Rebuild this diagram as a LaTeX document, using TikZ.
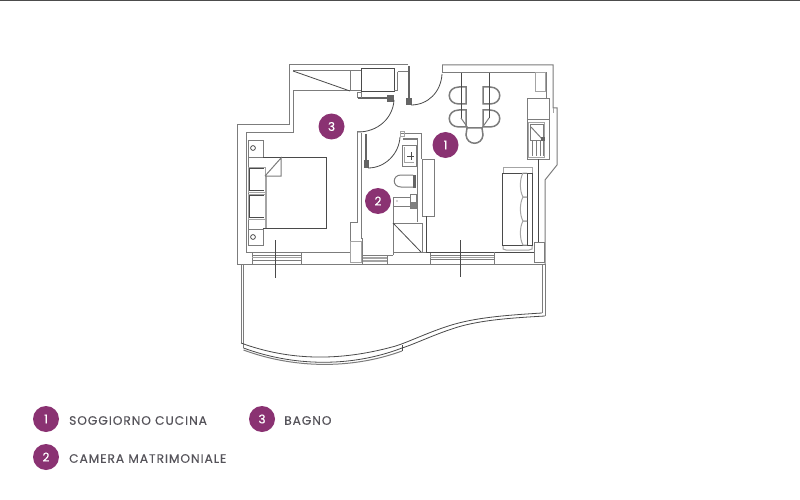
\documentclass[tikz,border=0pt]{standalone}
\usepackage{fontspec}
\setmainfont{Poppins}
\newfontfamily\legendfont[LetterSpace=8,FakeBold=0.25]{Poppins}
\newfontfamily\badgefont[FakeBold=0.5]{Poppins}
\definecolor{plum}{HTML}{8A3272}
\definecolor{wallc}{HTML}{7C7C7C}
\definecolor{darkc}{HTML}{4A4A4A}
\definecolor{softc}{HTML}{A4A4A4}
\definecolor{textc}{HTML}{55535A}
\tikzset{
  wall/.style={draw=wallc,line width=1pt},
  fine/.style={draw=darkc,line width=.8pt},
  soft/.style={draw=softc,line width=1pt},
  heavy/.style={draw=darkc!85,line width=2pt},
  badge/.style={circle,fill=plum,minimum size=26pt,inner sep=0pt,text=white,font=\fontsize{12}{12}\badgefont},
  legend/.style={anchor=west,text=textc,inner sep=0pt,font=\fontsize{12.2}{13}\legendfont},
}
\begin{document}
\begin{tikzpicture}[x=1pt,y=-1pt]
\useasboundingbox (0,0) rectangle (800,500);
\fill[white] (0,0) rectangle (800,500);
\draw[black!70,line width=1pt] (0,0.3) -- (800,0.3);

% outer walls
\draw[wall] (408,65) -- (289,65) -- (289,125) -- (237,125) -- (237,264) -- (545,264);
\draw[wall] (442,65) -- (553,65) -- (553,108) -- (557,108) -- (557,165) -- (545,180) -- (545,264);
\draw[wall] (293,91) -- (293,133) -- (246,133) -- (246,252) -- (350,252);
\draw[wall] (442,72.5) -- (546,72.5) -- (546,99);
\draw[wall] (293,71) -- (361,71) (293,91) -- (361,91) (350,71) -- (350,91);
\draw[fine] (293,71) -- (350,91);
\draw[fine] (361,68) rectangle (394,91);
\draw[wall] (397.5,72) -- (397.5,91) -- (394,91) (397.5,72) -- (408,72);
\draw[soft] (535,73) rectangle (545,92);
\draw[wall] (442,65) -- (442,73);

% thick walls and door jambs
\draw[heavy] (358,98) -- (389,98);
\fill[darkc!85] (387,95) rectangle (394,102);
\draw[wall] (357,98) -- (357,93) -- (361,93) -- (361,98);
\draw[heavy] (408.5,66) -- (408.5,101);
\fill[darkc!85] (405.5,98) rectangle (412,105);
\draw[heavy] (366,134) -- (366,162);
\fill[darkc!85] (363.5,160) rectangle (368.5,168);

% door swings
\draw[fine] (394,100) .. controls (393,118) and (378,132) .. (358,132);
\draw[fine] (442,74) .. controls (441,92) and (428,105) .. (411,105);
\draw[fine] (400,137) .. controls (399,154) and (385,168) .. (368,168);

% central wall
\draw[wall] (357,132) -- (363,132);
\draw[wall] (357,132) -- (357,222) -- (350,222) -- (350,262);
\draw[wall] (361,133) -- (361,238) -- (362,238) -- (362,264);
\draw[soft] (350,241) rectangle (361,262);

% bathroom
\draw[wall] (400,134) -- (421.5,134) -- (421.5,159);
\draw[wall] (403,139) -- (417.5,139) -- (417.5,222);
\draw[soft] (400,132) rectangle (404,137);
\draw[wall] (402,145) rectangle (416,166);
\draw[soft] (404,147) -- (404,162) -- (414,162);
\draw[darkc,line width=.8pt] (407,156) -- (414,156) (411,152) -- (411,160);
\draw[wall] (413,175) -- (401,175) .. controls (392,175) and (392,187) .. (401,187) -- (413,187);
\fill[darkc!85] (413,175) rectangle (416,188);
\draw[wall] (393,197) rectangle (410,206);
\fill[darkc] (397,201) circle (.7);
\draw[wall] (410,194) rectangle (416,208);
\fill[darkc!70] (411,202) rectangle (416,208);
\draw[wall] (393,223) rectangle (422,252);
\draw[fine] (393,223) -- (421,252);
\draw[wall] (393,206) -- (393,223) (393,252) -- (393,255);
\draw[wall] (363,255) -- (393,255);
\draw[soft,line width=1.2pt] (363,258) -- (387,258) (363,261) -- (387,261);
\draw[wall] (387,255) -- (387,264) (430,252) -- (430,264);
\draw[wall] (393,252) -- (430,252);

% cabinet and living room wall
\draw[wall] (422,159) rectangle (434,216);
\draw[fine] (426,216) -- (426,252) -- (535,252);

% windows
\draw[wall] (252,252) -- (252,264) (301,252) -- (301,264);
\draw[wall] (252,255) -- (301,255) (252,260) -- (301,260);
\draw[soft] (252,257.5) -- (301,257.5);
\draw[wall] (430,255) -- (494,255) (430,259) -- (494,259) (494,252) -- (494,264);
\draw[soft] (430,257) -- (494,257);
\draw[fine] (275,240) -- (275,278);
\draw[fine] (460,240) -- (460,277);

% bed
\draw[wall] (248,140.5) rectangle (263,157);
\draw[fine] (253,148) circle (2.4);
\draw[wall] (248,229) rectangle (263,245);
\draw[fine] (253,237) circle (2.4);
\draw[wall] (248,157) -- (248,229);
\draw[fine] (263,157) -- (326,157) -- (326,228) -- (263,228);
\draw[soft,line width=2pt] (265.5,176) -- (265.5,228);
\draw[soft] (248,167) rectangle (265,192);
\draw[soft] (248,194) rectangle (265,219);
\draw[darkc,line width=.9pt] (249,168.5) -- (249,190.5) -- (264,190.5) (249,168.5) -- (264,168.5)
  (249,195.5) -- (249,217.5) -- (264,217.5) (249,195.5) -- (264,195.5);
\draw[wall] (265,176) -- (281,158) -- (281,176) -- (265,176);

% dining table and chairs
\foreach \ya/\yb in {87/104,110/127}{
  \draw[wall,line width=1.5pt] (466,\ya) -- (459,\ya) .. controls (446,\ya) and (446,\yb) .. (459,\yb) -- (466,\yb) -- cycle;
  \draw[wall,line width=1.5pt] (483,\ya) -- (490,\ya) .. controls (503,\ya) and (503,\yb) .. (490,\yb) -- (483,\yb) -- cycle;
}
\draw[wall,line width=1.5pt] (467,128) -- (482,128) -- (483,135) .. controls (482,146) and (467,146) .. (466,135) -- cycle;
\draw[fine] (461,73) -- (461,118) (489,73) -- (489,118);
\draw[wall] (461,118) -- (468,128) (489,118) -- (482,128);

% kitchen
\draw[wall] (527,99) rectangle (549,159);
\draw[wall] (527,120) -- (549,120);
\draw[soft] (528,123) rectangle (544,157);
\draw[wall] (530,125) rectangle (543,140);
\draw[wall] (531,127) -- (543,140);
\fill[darkc!85] (541,137) rectangle (545,141);
\draw[wall] (532,141) -- (532,156) (536,141) -- (536,156) (540,141) -- (540,156) (543.5,141) -- (543.5,156);
\draw[fine] (538,159) -- (538,242);
\draw[soft] (553,108) -- (553,113);

% sofa
\draw[soft] (503,167) rectangle (532,173);
\draw[soft] (503,245) -- (503,249) -- (506,250) -- (529,250) -- (532,249) -- (532,245);
\draw[fine] (502,173) rectangle (532,245);
\draw[darkc,line width=1pt] (527,173) -- (527,245);
\foreach \ya/\yb in {173/197,197/221,221/245}{
  \draw[soft] (527,\ya) -- (523,\ya) .. controls (519.5,\ya+6) and (519.5,\yb-6) .. (523,\yb) -- (527,\yb);
}
\draw[wall] (534,242) rectangle (544,262);

% balcony
\draw[wall] (241,264) -- (241,343);
\draw[wall] (243.5,264) -- (243.5,348);
\draw[wall] (542,264) -- (542,313);
\draw[wall] (545,264) -- (545,316);
\draw[fine] (542,313) .. controls (510,315) and (480,317) .. (455,324)
  .. controls (430,331) and (405,344) .. (392,347)
  .. controls (340,361) and (290,361) .. (241,343);
\draw[fine] (545,316) .. controls (510,318) and (482,320) .. (458,327)
  .. controls (435,334) and (415,344) .. (402,348);
\draw[fine] (243.5,348) .. controls (292,366) and (350,368) .. (402,348);
\draw[wall] (243.5,350) .. controls (292,368) and (350,370) .. (402,351);
\draw[fine] (402,345) -- (402,351);

% numbered badges on the plan
\node[badge] (r1) at (445.5,145) {1};
\node[badge] (r2) at (378,201) {2};
\node[badge] (r3) at (331.5,126.5) {3};

% legend
\node[badge] (l1) at (46,419) {1};
\node[badge] (l2) at (46,457) {2};
\node[badge] (l3) at (262,419) {3};
\node[legend] (t1) at (69,420.5) {SOGGIORNO CUCINA};
\node[legend] (t2) at (69,458.5) {CAMERA MATRIMONIALE};
\node[legend] (t3) at (284,420.5) {BAGNO};
\end{tikzpicture}
\end{document}
